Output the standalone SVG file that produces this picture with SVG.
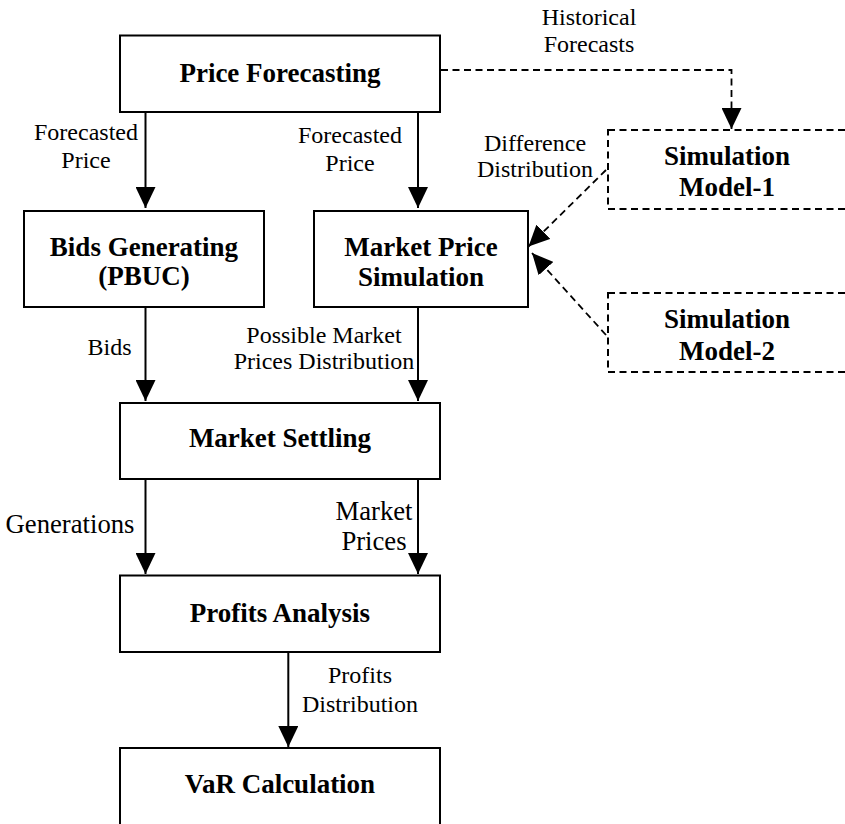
<svg xmlns="http://www.w3.org/2000/svg" width="845" height="824" viewBox="0 0 845 824">
<style>
.box{fill:#fff;stroke:#000;stroke-width:2}
.dbox{fill:#fff;stroke:#000;stroke-width:2;stroke-dasharray:7,4.5}
.t{font-family:"Liberation Serif","Times New Roman",serif;font-weight:bold;font-size:27px;text-anchor:middle;fill:#000}
.l{font-family:"Liberation Serif","Times New Roman",serif;font-size:24px;text-anchor:middle;fill:#000}
.lb{font-size:26.7px}
.c{stroke:#000;stroke-width:2;fill:none}
.d{stroke:#000;stroke-width:1.8;fill:none;stroke-dasharray:7,4.5}
</style>
<defs>
<marker id="ah" markerUnits="userSpaceOnUse" markerWidth="21" markerHeight="20" refX="21" refY="10" orient="auto">
<path d="M0,0 L21,10 L0,20 z" fill="#000"/>
</marker>
</defs>
<g id="connectors">
<line class="c" x1="145.5" y1="112" x2="145.5" y2="208" marker-end="url(#ah)"/>
<line class="c" x1="418" y1="112" x2="418" y2="208" marker-end="url(#ah)"/>
<line class="c" x1="145.5" y1="308" x2="145.5" y2="401" marker-end="url(#ah)"/>
<line class="c" x1="418" y1="308" x2="418" y2="401" marker-end="url(#ah)"/>
<line class="c" x1="145.5" y1="479" x2="145.5" y2="574" marker-end="url(#ah)"/>
<line class="c" x1="418" y1="479" x2="418" y2="574" marker-end="url(#ah)"/>
<line class="c" x1="288.3" y1="652" x2="288.3" y2="747" marker-end="url(#ah)"/>
<polyline class="d" points="441,70 731.5,70 731.5,129" marker-end="url(#ah)"/>
<line class="d" x1="606" y1="170" x2="528.5" y2="246.5" marker-end="url(#ah)"/>
<line class="d" x1="606" y1="335" x2="532" y2="253" marker-end="url(#ah)"/>
<text class="l" x="589" y="25">Historical</text>
<text class="l" x="589" y="52">Forecasts</text>
<text class="l" x="86" y="140">Forecasted</text>
<text class="l" x="86" y="168">Price</text>
<text class="l" x="350" y="143">Forecasted</text>
<text class="l" x="350" y="171">Price</text>
<text class="l" x="535" y="151">Difference</text>
<text class="l" x="535" y="177">Distribution</text>
<text class="l" x="109.5" y="355">Bids</text>
<text class="l" x="324" y="343">Possible Market</text>
<text class="l" x="324" y="369">Prices Distribution</text>
<text class="l lb" x="70" y="533">Generations</text>
<text class="l lb" x="374" y="520">Market</text>
<text class="l lb" x="374" y="550">Prices</text>
<text class="l" x="360" y="683">Profits</text>
<text class="l" x="360" y="712">Distribution</text>
</g>
<g id="price-forecasting">
<rect class="box" x="120" y="35.5" width="320" height="76.5"/>
<text class="t" x="280" y="82">Price Forecasting</text>
</g>
<g id="bids-generating">
<rect class="box" x="24" y="211" width="240" height="96"/>
<text class="t" x="144" y="256">Bids Generating</text>
<text class="t" x="144" y="285">(PBUC)</text>
</g>
<g id="market-price-simulation">
<rect class="box" x="314" y="211" width="214" height="96"/>
<text class="t" x="421" y="256">Market Price</text>
<text class="t" x="421" y="286">Simulation</text>
</g>
<g id="simulation-model-1">
<rect class="dbox" x="608" y="130" width="240" height="79"/>
<text class="t" x="727" y="165">Simulation</text>
<text class="t" x="727" y="196">Model-1</text>
</g>
<g id="simulation-model-2">
<rect class="dbox" x="608" y="293" width="240" height="79"/>
<text class="t" x="727" y="328">Simulation</text>
<text class="t" x="727" y="360">Model-2</text>
</g>
<g id="market-settling">
<rect class="box" x="120" y="403" width="320" height="76"/>
<text class="t" x="280" y="447">Market Settling</text>
</g>
<g id="profits-analysis">
<rect class="box" x="120" y="575.5" width="320" height="76.5"/>
<text class="t" x="280" y="622">Profits Analysis</text>
</g>
<g id="var-calculation">
<rect class="box" x="120" y="748" width="320" height="90"/>
<text class="t" x="280" y="793">VaR Calculation</text>
</g>
</svg>
